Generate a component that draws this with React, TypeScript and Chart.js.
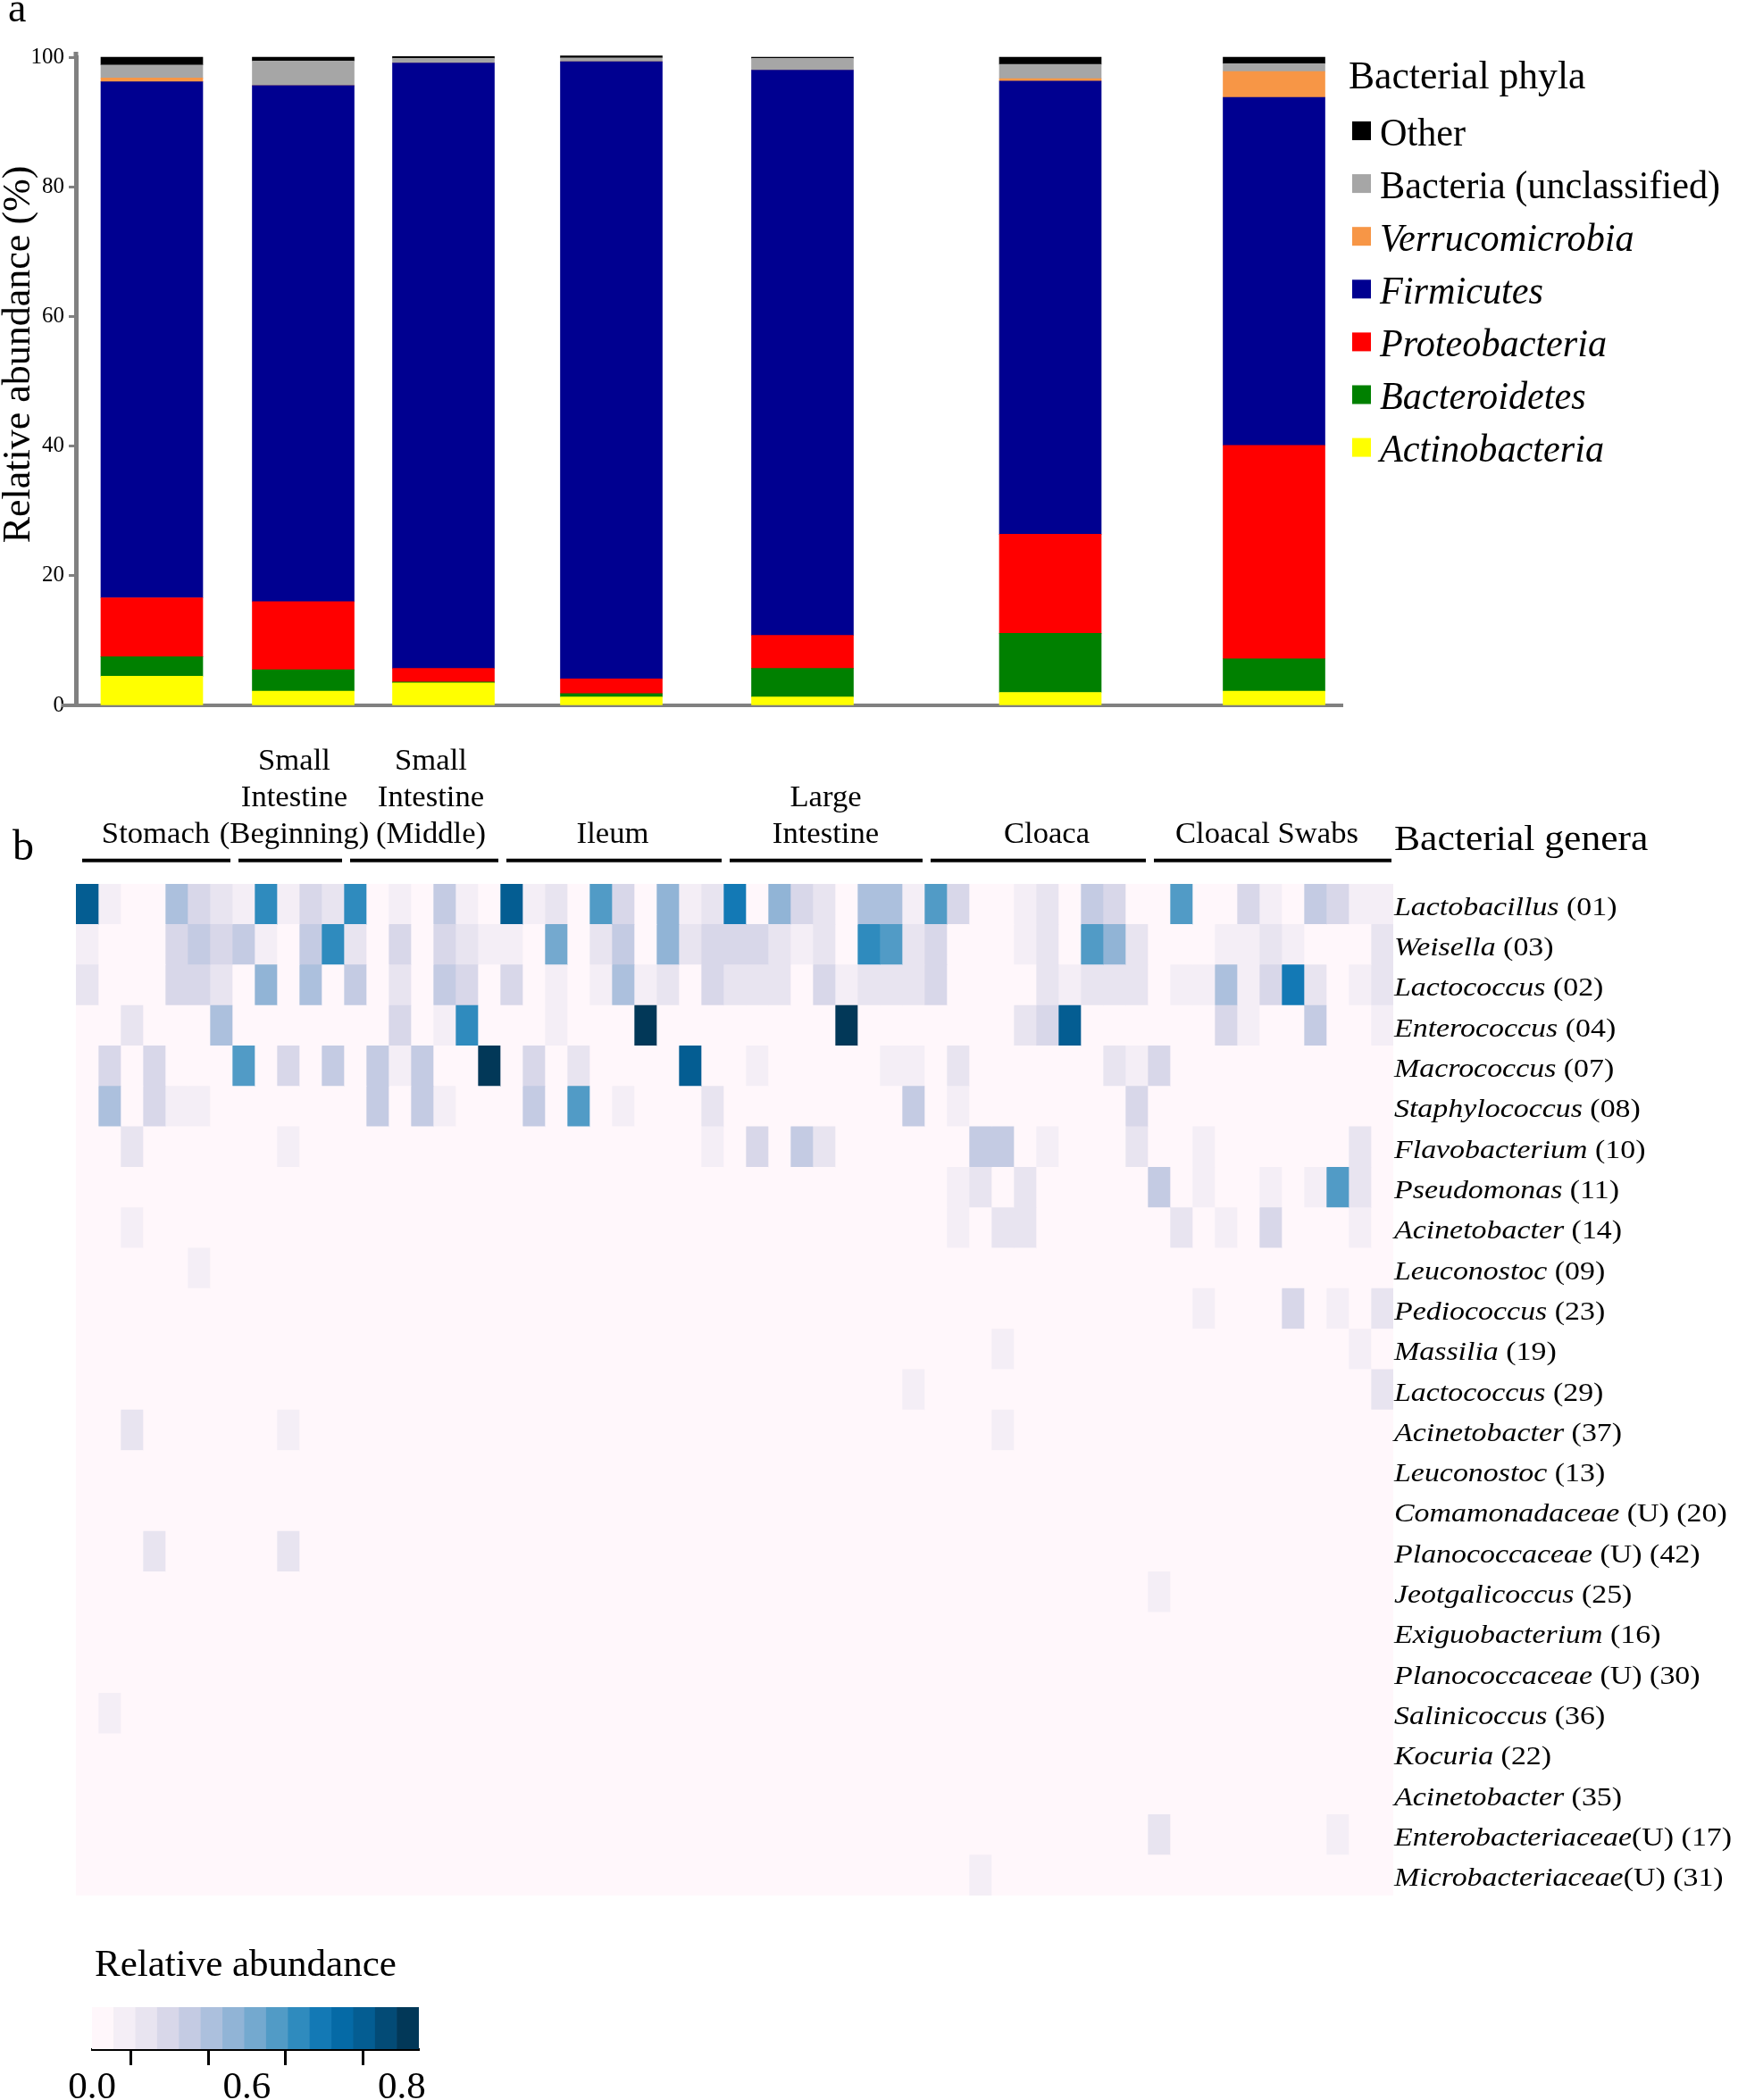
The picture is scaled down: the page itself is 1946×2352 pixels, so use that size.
import React, { useEffect, useRef } from 'react';
import { Chart, registerables } from 'chart.js';

Chart.register(...registerables);

const SERIF = '"Liberation Serif", "Times New Roman", serif';

// ---------------- Panel a: phyla (stacked bars) ----------------
const sampleSites = ['Stomach', 'Small Intestine (Beginning)', 'Small Intestine (Middle)', 'Ileum', 'Large Intestine', 'Cloaca', 'Cloacal Swabs'];
// bar centres on the shared sample-column axis (1 unit = one heatmap column)
const barCenters = [3.4, 10.18, 16.46, 23.98, 32.54, 43.64, 53.66];

const phylaNames = ['Actinobacteria', 'Bacteroidetes', 'Proteobacteria', 'Firmicutes', 'Verrucomicrobia', 'Bacteria (unclassified)', 'Other'];
const phylaItalic = [true, true, true, true, true, false, false];
const phylaColors = ['#ffff00', '#008000', '#ff0000', '#000090', '#f79646', '#a6a6a6', '#000000'];

const actinobacteria = [4.5, 2.2, 3.45, 1.3, 1.3, 2.0, 2.2];
const bacteroidetes = [3.0, 3.3, 0.15, 0.5, 4.4, 9.1, 5.0];
const proteobacteria = [9.1, 10.5, 2.1, 2.3, 5.1, 15.3, 32.9];
const firmicutes = [79.6, 79.6, 93.4, 95.2, 87.2, 69.9, 53.7];
const verrucomicrobia = [0.6, 0, 0, 0, 0, 0.4, 4.0];
const bacteriaUnclassified = [2.0, 3.8, 0.7, 0.6, 1.8, 2.2, 1.2];
const otherPhyla = [1.2, 0.6, 0.3, 0.3, 0.2, 1.1, 1.0];
const phylaValues = [actinobacteria, bacteroidetes, proteobacteria, firmicutes, verrucomicrobia, bacteriaUnclassified, otherPhyla];

const yTicks = [0, 20, 40, 60, 80, 100];

// ---------------- Panel b: genera heatmap ----------------
const groupLabelLines = [['Stomach'], ['Small', 'Intestine', '(Beginning)'], ['Small', 'Intestine', '(Middle)'], ['Ileum'], ['Large', 'Intestine'], ['Cloaca'], ['Cloacal Swabs']];
const groupSizes = [7, 5, 7, 10, 9, 10, 11];
const groupLabelShift = [2, 7, 10, 1, 2, 12, -4];

const genusNames = ['Lactobacillus', 'Weisella', 'Lactococcus', 'Enterococcus', 'Macrococcus', 'Staphylococcus', 'Flavobacterium', 'Pseudomonas', 'Acinetobacter', 'Leuconostoc', 'Pediococcus', 'Massilia', 'Lactococcus', 'Acinetobacter', 'Leuconostoc', 'Comamonadaceae', 'Planococcaceae', 'Jeotgalicoccus', 'Exiguobacterium', 'Planococcaceae', 'Salinicoccus', 'Kocuria', 'Acinetobacter', 'Enterobacteriaceae', 'Microbacteriaceae'];
const genusSuffix = [' (01)', ' (03)', ' (02)', ' (04)', ' (07)', ' (08)', ' (10)', ' (11)', ' (14)', ' (09)', ' (23)', ' (19)', ' (29)', ' (37)', ' (13)', ' (U) (20)', ' (U) (42)', ' (25)', ' (16)', ' (U) (30)', ' (36)', ' (22)', ' (35)', '(U) (17)', '(U) (31)'];

// relative abundance per genus row: [sample column, value]; unlisted cells are 0
const heatCells: [number, number][][] = [
  [[0, .71], [1, .08], [4, .31], [5, .2], [6, .14], [7, .08], [8, .54], [9, .08], [10, .2], [11, .14], [12, .54], [14, .08], [16, .25], [17, .08], [19, .71], [20, .08], [21, .14], [23, .48], [24, .2], [26, .37], [27, .08], [28, .14], [29, .6], [31, .37], [32, .2], [33, .14], [35, .31], [36, .31], [37, .08], [38, .48], [39, .2], [42, .08], [43, .14], [45, .25], [46, .2], [49, .48], [52, .2], [53, .08], [55, .25], [56, .2], [57, .08], [58, .08]],
  [[0, .08], [4, .2], [5, .25], [6, .2], [7, .25], [8, .08], [10, .25], [11, .54], [12, .14], [14, .2], [16, .2], [17, .14], [18, .08], [19, .08], [21, .42], [23, .14], [24, .25], [26, .37], [27, .14], [28, .2], [29, .2], [30, .2], [31, .14], [32, .08], [33, .14], [35, .54], [36, .48], [37, .14], [38, .2], [42, .08], [43, .14], [45, .48], [46, .37], [47, .14], [51, .08], [52, .08], [53, .14], [54, .08], [58, .14]],
  [[0, .14], [4, .2], [5, .2], [6, .14], [8, .37], [10, .31], [12, .25], [14, .14], [16, .25], [17, .2], [19, .2], [21, .08], [23, .08], [24, .31], [25, .08], [26, .14], [28, .2], [29, .14], [30, .14], [31, .14], [33, .2], [34, .08], [35, .14], [36, .14], [37, .14], [38, .2], [43, .14], [44, .08], [45, .14], [46, .14], [47, .14], [49, .08], [50, .08], [51, .31], [52, .08], [53, .2], [54, .6], [55, .14], [57, .08], [58, .14]],
  [[2, .14], [6, .31], [14, .2], [16, .08], [17, .54], [21, .08], [25, .82], [34, .82], [42, .14], [43, .2], [44, .71], [51, .2], [52, .08], [55, .25], [58, .08]],
  [[1, .2], [3, .2], [7, .48], [9, .2], [11, .25], [13, .25], [14, .08], [15, .25], [18, .82], [20, .2], [22, .14], [27, .71], [30, .08], [36, .08], [37, .08], [39, .14], [46, .14], [47, .08], [48, .2]],
  [[1, .31], [3, .2], [4, .08], [5, .08], [13, .25], [15, .25], [16, .08], [20, .25], [22, .48], [24, .08], [28, .14], [37, .25], [39, .08], [47, .2]],
  [[2, .14], [9, .08], [28, .08], [30, .2], [32, .25], [33, .14], [40, .25], [41, .25], [43, .08], [47, .14], [50, .08], [57, .14]],
  [[39, .08], [40, .14], [42, .14], [48, .25], [50, .08], [53, .08], [55, .08], [56, .48], [57, .14]],
  [[2, .08], [39, .08], [41, .14], [42, .14], [49, .14], [51, .08], [53, .2], [57, .08]],
  [[5, .08]],
  [[50, .08], [54, .2], [56, .08], [58, .14]],
  [[41, .08], [57, .08]],
  [[37, .08], [58, .14]],
  [[2, .14], [9, .08], [41, .08]],
  [],
  [],
  [[3, .14], [9, .14]],
  [[48, .08]],
  [],
  [],
  [[1, .08]],
  [],
  [],
  [[48, .14], [56, .08]],
  [[40, .08]],
];

// ---------------- Colour scale ----------------
const PUBU = ['#fff7fb', '#ece7f2', '#d0d1e6', '#a6bddb', '#74a9cf', '#3690c0', '#0570b0', '#045a8d', '#023858'];
const COLOR_LEVELS = 15;
const COLOR_MAX = 0.844;
const colorbarTicks = [0, 0.2, 0.4, 0.6, 0.8];
const colorbarTickText = ['0.0', '', '0.6', '', '0.8'];

function hexToRgb(h: string) {
  return [parseInt(h.slice(1, 3), 16), parseInt(h.slice(3, 5), 16), parseInt(h.slice(5, 7), 16)];
}
function levelColor(i: number) {
  const pos = (i / (COLOR_LEVELS - 1)) * (PUBU.length - 1);
  const lo = Math.floor(pos);
  const hi = Math.min(PUBU.length - 1, lo + 1);
  const f = pos - lo;
  const a = hexToRgb(PUBU[lo]);
  const b = hexToRgb(PUBU[hi]);
  const c = a.map((v, k) => Math.round(v + (b[k] - v) * f));
  return `rgb(${c[0]},${c[1]},${c[2]})`;
}
function valueColor(v: number) {
  const i = Math.min(COLOR_LEVELS - 1, Math.max(0, Math.floor((v / COLOR_MAX) * COLOR_LEVELS)));
  return levelColor(i);
}

function drawScaled(ctx: CanvasRenderingContext2D, text: string, x: number, y: number, font: string, sx: number, align: CanvasTextAlign = 'left') {
  ctx.save();
  ctx.translate(x, y);
  ctx.scale(sx, 1);
  ctx.font = font;
  ctx.textAlign = align;
  ctx.textBaseline = 'alphabetic';
  ctx.fillText(text, 0, 0);
  ctx.restore();
}

const barTextPlugin = {
  id: 'barText',
  afterDraw(chart: any) {
    const ctx: CanvasRenderingContext2D = chart.ctx;
    const area = chart.chartArea;
    ctx.save();
    // small axis overhangs as in the original figure
    ctx.fillStyle = '#808080';
    ctx.fillRect(69, area.bottom - 2, area.left - 69, 4);
    ctx.fillRect(area.left - 2.5, 58, 5, area.top - 58);
    ctx.fillStyle = '#000';
    drawScaled(ctx, 'a', 9, 24, `46px ${SERIF}`, 1);
    ctx.save();
    ctx.translate(21, 397);
    ctx.rotate(-Math.PI / 2);
    ctx.font = `44px ${SERIF}`;
    ctx.textAlign = 'center';
    ctx.textBaseline = 'middle';
    ctx.fillText('Relative abundance (%)', 0, 0);
    ctx.restore();
    drawScaled(ctx, 'Bacterial phyla', 1510, 99, `45px ${SERIF}`, 0.97);
    const n = phylaNames.length;
    for (let j = 0; j < n; j++) {
      const i = n - 1 - j;
      const cy = 146.5 + 59.1 * j;
      ctx.fillStyle = phylaColors[i];
      ctx.fillRect(1514, cy - 10.5, 21, 21);
      ctx.fillStyle = '#000';
      drawScaled(ctx, phylaNames[i], 1545, cy + 16, `${phylaItalic[i] ? 'italic ' : ''}44px ${SERIF}`, 0.96);
    }
    ctx.restore();
  },
};

const heatTextPlugin = {
  id: 'heatText',
  afterDraw(chart: any) {
    const ctx: CanvasRenderingContext2D = chart.ctx;
    const xs = chart.scales.x;
    const ys = chart.scales.y;
    ctx.save();
    ctx.fillStyle = '#000';
    drawScaled(ctx, 'b', 14, 163, `48px ${SERIF}`, 1);
    let start = 0;
    groupSizes.forEach((size, g) => {
      const x0 = xs.getPixelForValue(start);
      const x1 = xs.getPixelForValue(start + size);
      const cx = (x0 + x1) / 2 + groupLabelShift[g];
      const lines = groupLabelLines[g];
      lines.forEach((t, li) => {
        const base = 144 - (lines.length - 1 - li) * 41;
        drawScaled(ctx, t, cx, base, `33px ${SERIF}`, 1.05, 'center');
      });
      ctx.fillRect(x0 + 7, 161.7, x1 - x0 - 9, 4);
      start += size;
    });
    drawScaled(ctx, 'Bacterial genera', 1561, 152, `40px ${SERIF}`, 1.09);
    genusNames.forEach((name, r) => {
      const py = ys.getPixelForValue(r) + 12;
      ctx.save();
      ctx.translate(1561, py);
      ctx.scale(1.13, 1);
      ctx.textAlign = 'left';
      ctx.textBaseline = 'alphabetic';
      ctx.font = `italic 30px ${SERIF}`;
      ctx.fillText(name, 0, 0);
      const w = ctx.measureText(name).width;
      ctx.font = `30px ${SERIF}`;
      ctx.fillText(genusSuffix[r], w, 0);
      ctx.restore();
    });
    ctx.restore();
  },
};

const colorbarTextPlugin = {
  id: 'cbText',
  afterDraw(chart: any) {
    const ctx: CanvasRenderingContext2D = chart.ctx;
    ctx.save();
    ctx.fillStyle = '#000';
    drawScaled(ctx, 'Relative abundance', 106, 53, `43px ${SERIF}`, 1);
    ctx.restore();
  },
};

export default function App() {
  const barRef = useRef<HTMLCanvasElement>(null);
  const heatRef = useRef<HTMLCanvasElement>(null);
  const cbRef = useRef<HTMLCanvasElement>(null);

  useEffect(() => {
    Chart.defaults.font.family = SERIF;
    const charts: Chart[] = [];

    // Panel a
    if (barRef.current) {
      charts.push(
        new Chart(barRef.current, {
          type: 'bar',
          data: {
            datasets: phylaNames.map((name, i) => ({
              label: name,
              data: barCenters.map((x, k) => ({ x, y: phylaValues[i][k] })),
              backgroundColor: phylaColors[i],
              borderWidth: 0,
              barThickness: 114,
              clip: false as any,
            })),
          },
          options: {
            animation: false,
            responsive: false,
            devicePixelRatio: 1,
            layout: { padding: { left: 0, top: 64, right: 443, bottom: 16 } },
            plugins: { legend: { display: false }, tooltip: { enabled: false } },
            scales: {
              x: {
                type: 'linear',
                min: 0,
                max: 56.72,
                offset: false,
                stacked: true,
                grid: { display: false },
                ticks: { display: false },
                border: { display: true, color: '#808080', width: 4 },
                afterFit: (s: any) => { s.height = 0; },
              },
              y: {
                type: 'linear',
                min: 0,
                max: 100,
                stacked: true,
                afterBuildTicks: (axis: any) => { axis.ticks = yTicks.map((value) => ({ value })); },
                ticks: { color: '#000', font: { family: SERIF, size: 25 }, padding: 5 },
                grid: { drawOnChartArea: false, drawTicks: true, tickLength: 8, tickColor: '#808080', tickWidth: 3 },
                border: { display: true, color: '#808080', width: 5 },
                afterFit: (s: any) => { s.width = 85; },
              },
            },
          } as any,
          plugins: [barTextPlugin],
        } as any)
      );
    }

    // Panel b heatmap
    if (heatRef.current) {
      const sampleCount = groupSizes.reduce((a, b) => a + b, 0);
      const matrix = heatCells.map((cells) => {
        const row = new Array(sampleCount).fill(0);
        cells.forEach(([c, v]) => { row[c] = v; });
        return row;
      });
      const datasets = [] as any[];
      for (let c = 0; c < sampleCount; c++) {
        datasets.push({
          label: `sample ${c + 1}`,
          data: genusNames.map(() => [c, c + 1]),
          backgroundColor: genusNames.map((_, r) => valueColor(matrix[r][c])),
          borderWidth: 0,
          barPercentage: 1,
          categoryPercentage: 1,
          grouped: false,
        });
      }
      charts.push(
        new Chart(heatRef.current, {
          type: 'bar',
          data: { labels: genusNames.map((g, r) => g + genusSuffix[r]), datasets },
          options: {
            indexAxis: 'y',
            animation: false,
            responsive: false,
            devicePixelRatio: 1,
            layout: { padding: { left: 85, right: 386, top: 190, bottom: 17 } },
            plugins: { legend: { display: false }, tooltip: { enabled: false } },
            scales: {
              x: { type: 'linear', min: 0, max: sampleCount, display: false, offset: false },
              y: { type: 'category', display: false, offset: true },
            },
          } as any,
          plugins: [heatTextPlugin],
        } as any)
      );
    }

    // Colour bar
    if (cbRef.current) {
      const centers = Array.from({ length: COLOR_LEVELS }, (_, i) => ((i + 0.5) * COLOR_MAX) / COLOR_LEVELS);
      charts.push(
        new Chart(cbRef.current, {
          type: 'bar',
          data: {
            datasets: [
              {
                data: centers.map((x) => ({ x, y: 1 })),
                backgroundColor: centers.map((_, i) => levelColor(i)),
                borderWidth: 0,
                barPercentage: 1,
                categoryPercentage: 1,
              },
            ],
          },
          options: {
            animation: false,
            responsive: false,
            devicePixelRatio: 1,
            layout: { padding: { left: 103, right: 131, top: 88, bottom: 0 } },
            plugins: { legend: { display: false }, tooltip: { enabled: false } },
            scales: {
              x: {
                type: 'linear',
                min: 0,
                max: COLOR_MAX,
                offset: false,
                afterBuildTicks: (axis: any) => { axis.ticks = colorbarTicks.map((value) => ({ value })); },
                ticks: {
                  color: '#000',
                  font: { family: SERIF, size: 43 },
                  padding: 0,
                  autoSkip: false,
                  maxRotation: 0,
                  callback: (_v: any, i: number) => colorbarTickText[i],
                },
                grid: { drawOnChartArea: false, drawTicks: true, tickLength: 18, tickColor: '#000', tickWidth: 3 },
                border: { display: true, color: '#000', width: 3 },
                afterFit: (s: any) => { s.height = 57; },
              },
              y: { type: 'linear', min: 0, max: 1, display: false },
            },
          } as any,
          plugins: [colorbarTextPlugin],
        } as any)
      );
    }

    return () => charts.forEach((c) => c.destroy());
  }, []);

  return (
    <div style={{ position: 'absolute', left: 0, top: 0, width: 1946, height: 2352, background: '#fff', overflow: 'hidden' }}>
      <canvas ref={barRef} width={1946} height={810} style={{ position: 'absolute', left: 0, top: 0, width: 1946, height: 810 }} />
      <canvas ref={heatRef} width={1946} height={1340} style={{ position: 'absolute', left: 0, top: 800, width: 1946, height: 1340 }} />
      <canvas ref={cbRef} width={600} height={192} style={{ position: 'absolute', left: 0, top: 2160, width: 600, height: 192 }} />
    </div>
  );
}
